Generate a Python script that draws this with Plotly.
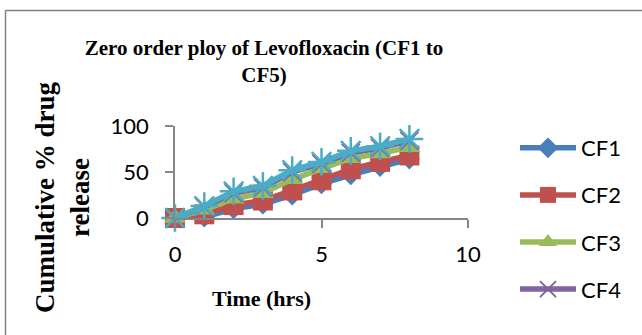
import plotly.graph_objects as go

time_hrs = [0, 1, 2, 3, 4, 5, 6, 7, 8]
cf1 = [0, 1, 10, 15, 25, 37, 47, 56, 64]
cf2 = [0, 4, 14, 19, 30, 41, 53, 61, 68]
cf3 = [0, 9, 21, 27, 42, 54, 65, 70, 77]
cf4 = [0, 12, 27, 33, 50, 59, 71, 76, 84]
cf5 = [0, 13, 29, 35, 52, 61, 73, 78, 86]
x_ticks = [0, 5, 10]
y_ticks = [0, 50, 100]

W, H = 642, 335
L, R, T, B = 175, 174, 126, 117
pw, ph = W - L - R, H - T - B

def px(x):
    return (x - L) / pw

def py(y):
    return (H - B - y) / ph

series = [
    ("CF1", cf1, "#4A7EBB", "diamond", 16, None, True),
    ("CF2", cf2, "#C0504D", "square", 20, None, True),
    ("CF3", cf3, "#9BBB59", "triangle-up", 19, None, True),
    ("CF4", cf4, "#8064A2", "x-thin-open", 18, 2, True),
    ("CF5", cf5, "#4BACC6", "asterisk-open", 23, 2.5, False),
]

fig = go.Figure()
for i, (name, vals, col, sym, size, lw, show) in enumerate(series):
    marker = dict(symbol=sym, size=size, color=col)
    if lw:
        marker["line"] = dict(color=col, width=lw)
    else:
        marker["line"] = dict(width=0)
    fig.add_trace(go.Scatter(
        x=time_hrs, y=vals, name=name, mode="lines+markers",
        line=dict(color=col, width=5.5), marker=marker,
        cliponaxis=False, showlegend=show, legendgroup=name,
    ))

axis_col = "#868686"
fig.update_layout(
    width=W, height=H,
    margin=dict(l=L, r=R, t=T, b=B, pad=0, autoexpand=False),
    paper_bgcolor="white", plot_bgcolor="white",
    title=dict(
        text="Zero order ploy of Levofloxacin (CF1 to<br>CF5)",
        x=264 / W, xref="container", xanchor="center",
        y=1 - 55 / H, yref="container", yanchor="middle",
        font=dict(family="Liberation Serif", size=21, color="black", weight="bold"),
    ),
    xaxis=dict(
        range=[0, 10], tickvals=x_ticks, showgrid=False, zeroline=False,
        showline=True, linecolor=axis_col, linewidth=1.5,
        ticks="outside", ticklen=8, tickcolor=axis_col, tickwidth=1.5,
        tickfont=dict(family="Lato", size=22, color="black"),
        ticklabelstandoff=8,
    ),
    yaxis=dict(
        range=[0, 100], tickvals=y_ticks, showgrid=False, zeroline=False,
        showline=True, linecolor=axis_col, linewidth=1.5,
        ticks="outside", ticklen=8, tickcolor=axis_col, tickwidth=1.5,
        tickfont=dict(family="Lato", size=22, color="black"),
        ticklabelstandoff=12,
    ),
    legend=dict(
        x=px(515), y=py(127), xref="paper", yref="paper",
        xanchor="left", yanchor="top",
        font=dict(family="Lato", size=22, color="black"),
        itemwidth=56, tracegroupgap=15.5, traceorder="grouped",
        bgcolor="rgba(0,0,0,0)", maxheight=600,
    ),
    showlegend=True,
)

fig.add_annotation(
    text="Cumulative % drug<br>release", textangle=-90,
    x=px(62), y=py(197), xref="paper", yref="paper",
    xanchor="center", yanchor="middle", showarrow=False,
    font=dict(family="Liberation Serif", size=27, color="black", weight="bold"),
)
fig.add_annotation(
    text="Time (hrs)",
    x=px(261.5), y=py(298), xref="paper", yref="paper",
    xanchor="center", yanchor="middle", showarrow=False,
    font=dict(family="Liberation Serif", size=22, color="black", weight="bold"),
)

# chart-area border (left and top edges visible)
fig.add_shape(type="line", xref="paper", yref="paper",
              x0=px(5.5), x1=px(700), y0=py(10.5), y1=py(10.5),
              line=dict(color="#808080", width=1.5))
fig.add_shape(type="line", xref="paper", yref="paper",
              x0=px(5.5), x1=px(5.5), y0=py(10.5), y1=py(400),
              line=dict(color="#808080", width=1.5))

fig.write_html("out.html")
